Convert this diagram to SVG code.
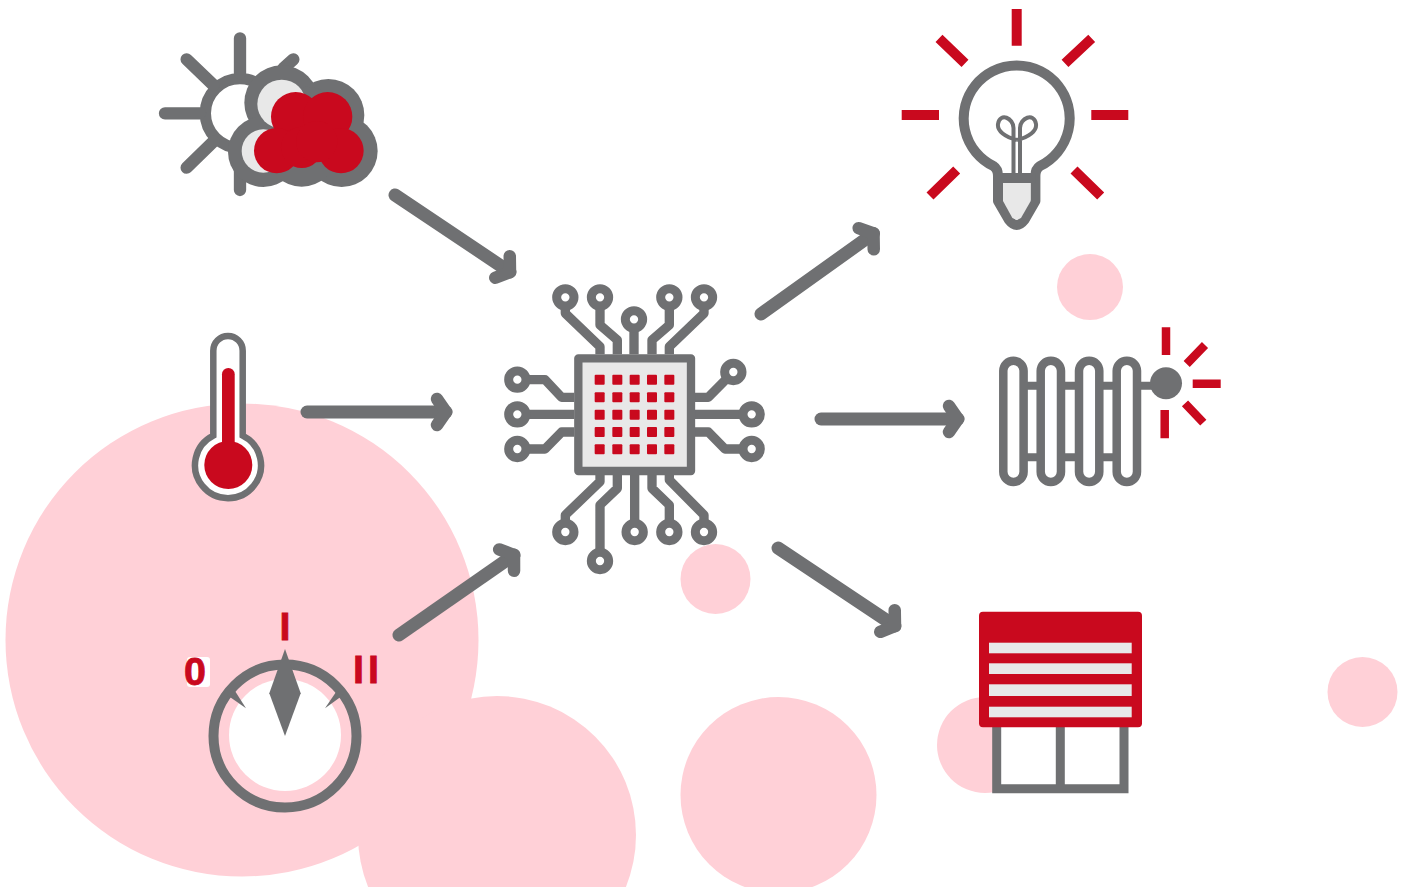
<svg xmlns="http://www.w3.org/2000/svg" width="1408" height="887" viewBox="0 0 1408 887">
<style>
.pink{fill:#ffd0d7}
.g{fill:#6f7072}
.r{fill:#c9091e}
.l{fill:#e8e8e8}
.w{fill:#fff}
.sg{fill:none;stroke:#6f7072;stroke-linecap:round;stroke-linejoin:round}
.sr{fill:none;stroke:#c9091e;stroke-linecap:butt}
.pin{fill:none;stroke:#6f7072;stroke-width:28;stroke-linejoin:round}
.pad{fill:#fff;stroke:#6f7072;stroke-width:27}
.tube{fill:#fff;stroke:#6f7072;stroke-width:8.500}
.arrow{fill:none;stroke:#6f7072;stroke-width:13;stroke-linecap:round;marker-end:url(#head)}
.lab{font-family:"Liberation Sans",Arial,sans-serif;font-weight:700;font-size:39.5px;fill:#c9091e;stroke:#c9091e;stroke-width:.8;text-anchor:middle}
</style>
<defs>
<marker id="head" markerUnits="userSpaceOnUse" viewBox="-20 -22 30 44" refX="0" refY="0" markerWidth="30" markerHeight="44" orient="auto">
<path d="M-9-13L0 0L-9 13" fill="none" stroke="#6f7072" stroke-width="12.500" stroke-linecap="round" stroke-linejoin="round"/>
</marker>
</defs>
<rect width="1408" height="887" fill="#fff"/>
<g id="background">
<circle class="pink" cx="242" cy="640" r="236.5"/>
<circle class="pink" cx="497" cy="835" r="139"/>
<circle class="pink" cx="778.500" cy="795" r="98"/>
<circle class="pink" cx="1090" cy="287" r="33"/>
<circle class="pink" cx="715.500" cy="579" r="35"/>
<circle class="pink" cx="1362.500" cy="692" r="35"/>
<circle class="pink" cx="985" cy="745" r="48"/>
</g>
<g id="connectors">
<path class="arrow" d="M395 195L510 272"/>
<path class="arrow" d="M307 412L446 412"/>
<path class="arrow" d="M399 635L514 555"/>
<path class="arrow" d="M761 314L873.500 233.500"/>
<path class="arrow" d="M821 419L958 419"/>
<path class="arrow" d="M778 548L895 626"/>
</g>
<g id="weather">
<g transform="translate(150 20) scale(.33333)">
<circle cx="270" cy="280" r="104" fill="#fff" stroke="#6f7072" stroke-width="34"/>
<path class="sg" stroke-width="37" d="M270 55V160M45 280H150M110 118L190 195M110 443L190 365M270 510V440M430 118L400 145"/>
<g class="g">
<circle cx="395" cy="248" r="112"/><circle cx="535" cy="285" r="108"/><circle cx="575" cy="393" r="108"/><circle cx="340" cy="395" r="106"/><circle cx="455" cy="395" r="105"/><circle cx="470" cy="300" r="100"/>
</g>
<g class="l"><circle cx="395" cy="252" r="73"/><circle cx="340" cy="393" r="65"/></g>
<g class="r">
<circle cx="437" cy="290" r="74"/><circle cx="533" cy="290" r="74"/><circle cx="380" cy="392" r="68"/><circle cx="573" cy="392" r="68"/><circle cx="455" cy="382" r="62"/><circle cx="500" cy="365" r="62"/>
</g>
</g>
</g>
<g id="thermometer">
<path d="M213.300 435.600V350.700A14.700 14.700 0 0 1 242.700 350.700V435.600A33 33 0 1 1 213.300 435.600Z" fill="#fff" stroke="#6f7072" stroke-width="6.500"/>
<rect class="r" x="222" y="368" width="12.700" height="90" rx="6.300"/>
<circle class="r" cx="228.300" cy="465" r="24"/>
</g>
<g id="dial">
<circle class="w" cx="285" cy="735" r="56"/>
<circle cx="285" cy="736" r="71.500" fill="none" stroke="#6f7072" stroke-width="10"/>
<polygon class="g" points="227,695 235,691 246,708.300"/>
<polygon class="g" points="325,708.300 336.700,691 343.300,695"/>
<polygon class="g" points="285,649 300.700,693.300 285,736 269.300,693.300"/>
<rect class="w" x="187" y="657" width="23" height="30" rx="3"/>
<text class="lab" x="285" y="640">I</text>
<text class="lab" x="195" y="685">0</text>
<text class="lab" x="368" y="682.500" letter-spacing="4">II</text>
</g>
<g id="chip">
<g transform="translate(495 275) scale(.33333)">
<path class="pin" d="M211 67V115L315 215V238M315 67V150L367 195V238M417 133V238M523 67V150L471 195V238M627 67V115L523 215V238"/>
<path class="pin" d="M211 771V720L315 620V600M315 858V690L367 640V600M419 771V600M523 771V690L471 640V600M627 771V720L523 615V600"/>
<path class="pin" d="M67 314H150L200 367H238M67 418H238M67 522H150L200 471H238"/>
<path class="pin" d="M715 291L640 367H600M770 418H600M770 522H690L640 471H600"/>
<g class="pads">
<circle class="pad" cx="211" cy="67" r="26"/><circle class="pad" cx="315" cy="67" r="26"/><circle class="pad" cx="417" cy="133" r="26"/><circle class="pad" cx="523" cy="67" r="26"/><circle class="pad" cx="627" cy="67" r="26"/>
<circle class="pad" cx="211" cy="771" r="26"/><circle class="pad" cx="315" cy="858" r="26"/><circle class="pad" cx="419" cy="771" r="26"/><circle class="pad" cx="523" cy="771" r="26"/><circle class="pad" cx="627" cy="771" r="26"/>
<circle class="pad" cx="67" cy="314" r="26"/><circle class="pad" cx="67" cy="418" r="26"/><circle class="pad" cx="67" cy="522" r="26"/>
<circle class="pad" cx="715" cy="291" r="26"/><circle class="pad" cx="770" cy="418" r="26"/><circle class="pad" cx="770" cy="522" r="26"/>
</g>
<rect x="250" y="250" width="338" height="338" fill="#e8e8e8" stroke="#6f7072" stroke-width="25" stroke-linejoin="round"/>
<g class="r">
<rect x="299" y="299" width="30" height="30" rx="3"/><rect x="352" y="299" width="30" height="30" rx="3"/><rect x="404" y="299" width="30" height="30" rx="3"/><rect x="456" y="299" width="30" height="30" rx="3"/><rect x="508" y="299" width="30" height="30" rx="3"/>
<rect x="299" y="352" width="30" height="30" rx="3"/><rect x="352" y="352" width="30" height="30" rx="3"/><rect x="404" y="352" width="30" height="30" rx="3"/><rect x="456" y="352" width="30" height="30" rx="3"/><rect x="508" y="352" width="30" height="30" rx="3"/>
<rect x="299" y="404" width="30" height="30" rx="3"/><rect x="352" y="404" width="30" height="30" rx="3"/><rect x="404" y="404" width="30" height="30" rx="3"/><rect x="456" y="404" width="30" height="30" rx="3"/><rect x="508" y="404" width="30" height="30" rx="3"/>
<rect x="299" y="456" width="30" height="30" rx="3"/><rect x="352" y="456" width="30" height="30" rx="3"/><rect x="404" y="456" width="30" height="30" rx="3"/><rect x="456" y="456" width="30" height="30" rx="3"/><rect x="508" y="456" width="30" height="30" rx="3"/>
<rect x="299" y="508" width="30" height="30" rx="3"/><rect x="352" y="508" width="30" height="30" rx="3"/><rect x="404" y="508" width="30" height="30" rx="3"/><rect x="456" y="508" width="30" height="30" rx="3"/><rect x="508" y="508" width="30" height="30" rx="3"/>
</g>
</g>
</g>
<g id="bulb">
<path class="sr" stroke-width="10" d="M1016.700 9V45.700M901.700 115H939M1091.300 115H1128.300M939 38.300L965 63.300M1091.700 38.300L1065 63.300M956.700 170L930 196M1074 170L1100.700 196"/>
<path d="M1040 166A53 53 0 1 0 993.400 166Q998 169 998 176V201L1009 220Q1016.700 230 1024.400 220L1035.400 201V176Q1035.400 169 1040 166Z" fill="#fff" stroke="#6f7072" stroke-width="10" stroke-linejoin="round"/>
<polygon class="l" points="1003,183 1030.700,183 1030.700,201 1021,218 1016.700,220 1012.400,218 1003,201"/>
<rect class="g" x="998" y="173" width="37.400" height="10"/>
<path fill="none" stroke="#6f7072" stroke-width="4" d="M1013.500 174V128C1013.500 118 1000 112 998 124C997 131 1005 137 1017 140M1020 174V128C1020 118 1034 112 1036 124C1037 131 1029 137 1017 140"/>
</g>
<g id="radiator">
<path class="sr" stroke-width="8.500" d="M1166 327.300V355M1192.700 383.700H1220.700M1164.700 410V438.300M1205 345L1186.700 364M1203.300 422.700L1185 403.300"/>
<path fill="none" stroke="#6f7072" stroke-width="8" d="M1020 385.700H1155M1020 457.300H1125"/>
<rect class="tube" x="1003.300" y="360.700" width="20.300" height="121.300" rx="10.150"/>
<rect class="tube" x="1040.700" y="360.700" width="20.300" height="121.300" rx="10.150"/>
<rect class="tube" x="1079" y="360.700" width="20.300" height="121.300" rx="10.150"/>
<rect class="tube" x="1116.700" y="360.700" width="20.300" height="121.300" rx="10.150"/>
<circle class="g" cx="1166" cy="383.300" r="16"/>
</g>
<g id="shutter">
<path d="M996.700 720V788.700H1124V720M1060.300 720V788.700" fill="#fff" stroke="#6f7072" stroke-width="9"/>
<rect class="r" x="979" y="611.700" width="163" height="115.600" rx="4"/>
<rect class="l" x="989" y="642.700" width="142.700" height="10.600"/>
<rect class="l" x="989" y="663.300" width="142.700" height="10.700"/>
<rect class="l" x="989" y="684.300" width="142.700" height="11.700"/>
<rect class="l" x="989" y="706.700" width="142.700" height="10.600"/>
</g>
</svg>
